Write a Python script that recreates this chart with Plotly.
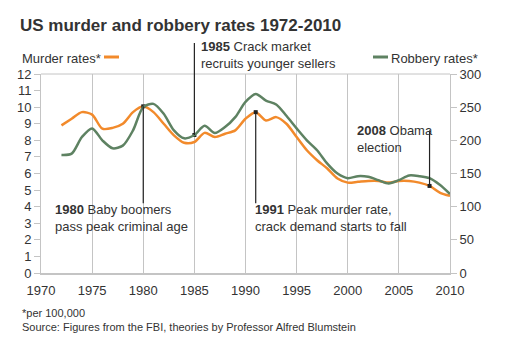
import plotly.graph_objects as go

years = list(range(1972, 2011))
murder = [8.9, 9.3, 9.7, 9.55, 8.7, 8.75, 9.0, 9.7, 10.05, 9.7, 9.0, 8.3, 7.85, 7.9,
          8.45, 8.2, 8.4, 8.6, 9.3, 9.7, 9.2, 9.4, 9.0, 8.2, 7.4, 6.8, 6.3, 5.7, 5.45,
          5.5, 5.55, 5.55, 5.45, 5.55, 5.55, 5.45, 5.25, 4.85, 4.65]
robbery = [178, 180, 205, 218, 200, 188, 192, 215, 250, 255, 240, 215, 203, 208,
           222, 211, 220, 235, 258, 270, 260, 254, 237, 218, 200, 185, 165, 150, 143,
           146, 145, 140, 135, 140, 147, 146, 143, 133, 119]
x_ticks = [1970, 1975, 1980, 1985, 1990, 1995, 2000, 2005, 2010]
left_ticks = list(range(0, 13))
right_ticks = [0, 50, 100, 150, 200, 250, 300]

event_years = [1980, 1985, 1991, 2008]
event_series = ["murder", "robbery", "murder", "murder"]
event_bold = ["1980", "1985", "1991", "2008"]
event_text = [["Baby boomers", "pass peak criminal age"],
              ["Crack market", "recruits younger sellers"],
              ["Peak murder rate,", "crack demand starts to fall"],
              ["Obama", "election"]]

ORANGE = "#F28A2B"
GREEN = "#5E8262"
TXT = "#333333"
GRID = "#c4c4c4"
FONT = "Liberation Sans, Arial, sans-serif"

fig = go.Figure()
fig.add_trace(go.Scatter(x=years, y=murder, mode="lines", line=dict(color=ORANGE, width=2.5, shape="spline", smoothing=0.8),
                         yaxis="y", showlegend=False, hoverinfo="skip"))
fig.add_trace(go.Scatter(x=years, y=robbery, mode="lines", line=dict(color=GREEN, width=2.5, shape="spline", smoothing=0.8),
                         yaxis="y2", showlegend=False, hoverinfo="skip"))

# event points (on the murder scale)
ev_vals = []
for yr, s in zip(event_years, event_series):
    i = years.index(yr)
    ev_vals.append(murder[i] if s == "murder" else robbery[i] / 25.0)

fig.add_trace(go.Scatter(x=event_years, y=ev_vals, mode="markers",
                         marker=dict(symbol="square", size=4, color="#222"),
                         yaxis="y", showlegend=False, hoverinfo="skip"))

shapes = []
# event leader lines
tops_bottoms = {1980: (None, 4.2), 1985: ("paper", 1.156), 1991: (None, 4.2), 2008: (None, 8.6)}
for yr, v in zip(event_years, ev_vals):
    kind, end = tops_bottoms[yr]
    if kind == "paper":
        shapes.append(dict(type="line", xref="x", yref="paper", x0=yr, x1=yr, y0=v / 12.0, y1=end,
                           line=dict(color="#222", width=1.2), layer="above"))
    else:
        shapes.append(dict(type="line", xref="x", yref="y", x0=yr, x1=yr, y0=v, y1=end,
                           line=dict(color="#222", width=1.2), layer="above"))
# top border line at 12
shapes.append(dict(type="line", xref="paper", yref="paper", x0=0, x1=1, y0=1, y1=1,
                   line=dict(color=GRID, width=1), layer="below"))
# legend dashes
shapes.append(dict(type="line", xref="paper", yref="paper", x0=(104 - 41) / 409, x1=(119 - 41) / 409,
                   y0=(273 - 57) / 199, y1=(273 - 57) / 199, line=dict(color=ORANGE, width=3)))
shapes.append(dict(type="line", xref="paper", yref="paper", x0=(373 - 41) / 409, x1=(388 - 41) / 409,
                   y0=(273 - 57) / 199, y1=(273 - 57) / 199, line=dict(color=GREEN, width=3)))

annotations = []
def add_text(xp, yp, txt, size=13, anchor="left"):
    annotations.append(dict(xref="paper", yref="paper", x=(xp - 41) / 409, y=(273 - yp) / 199,
                            text=txt, showarrow=False, xanchor=anchor, yanchor="middle", align="left",
                            font=dict(family=FONT, size=size, color=TXT)))

text_pos = {1980: (53, 218), 1985: (199, 55), 1991: (253, 218), 2008: (355, 139)}
for yr, b, lines in zip(event_years, event_bold, event_text):
    xp, yp = text_pos[yr]
    add_text(xp, yp, "<b>%s</b> %s<br>%s" % (b, lines[0], lines[1]))

add_text(20, 58, "Murder rates*")
add_text(480, 58, "Robbery rates*", anchor="right")
add_text(20, 319.5, "*per 100,000<br>Source: Figures from the FBI, theories by Professor Alfred Blumstein", size=11)

fig.update_layout(
    width=511, height=350,
    margin=dict(l=41, r=61, t=74, b=77),
    paper_bgcolor="white", plot_bgcolor="white",
    font=dict(family=FONT, size=13, color=TXT),
    title=dict(text="<b>US murder and robbery rates 1972-2010</b>", x=20 / 511, xref="container",
               xanchor="left", y=1 - 25 / 350, yref="container", yanchor="middle",
               font=dict(family=FONT, size=17, color=TXT)),
    xaxis=dict(range=[1970, 2010], tickvals=x_ticks, ticktext=[str(t) for t in x_ticks],
               showgrid=True, gridcolor=GRID, gridwidth=1, zeroline=False,
               showline=True, linecolor=GRID, linewidth=2, ticks="outside", ticklen=4,
               tickcolor="rgba(0,0,0,0)", tickfont=dict(size=13, color=TXT)),
    yaxis=dict(range=[0, 12], tickvals=left_ticks, showgrid=False, zeroline=False,
               showline=True, linecolor=GRID, linewidth=1, ticks="outside", ticklen=6,
               tickcolor=GRID, tickfont=dict(size=13, color=TXT)),
    yaxis2=dict(range=[0, 300], tickvals=right_ticks, overlaying="y", side="right",
                showgrid=False, zeroline=False, showline=True, linecolor=GRID, linewidth=1,
                ticks="outside", ticklen=6, tickcolor=GRID, tickfont=dict(size=13, color=TXT)),
    shapes=shapes, annotations=annotations,
)

fig.write_html("out.html")
